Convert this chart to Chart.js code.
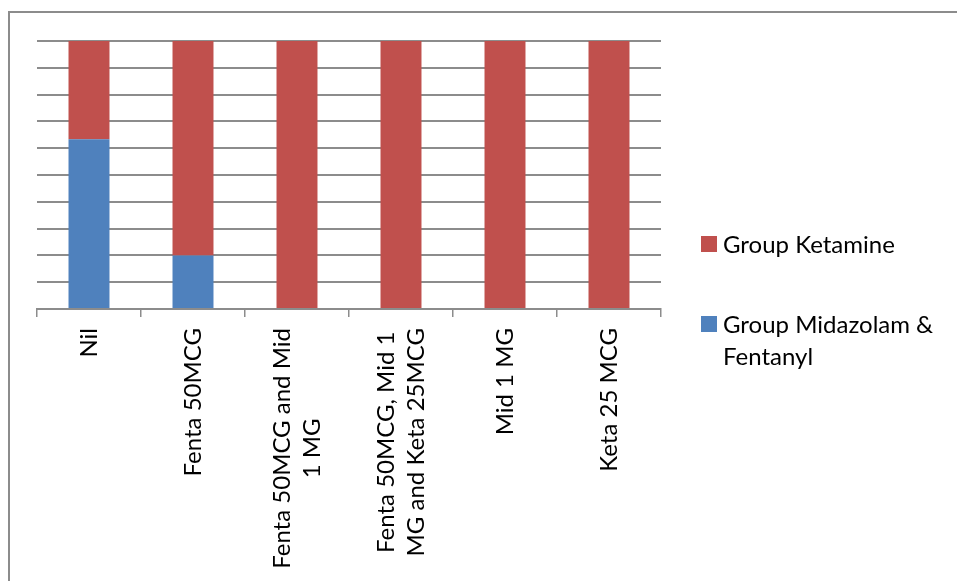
<!DOCTYPE html>
<html>
<head>
<meta charset="utf-8">
<script src="https://cdn.jsdelivr.net/npm/chart.js@4"></script>
<style>
  html, body { margin: 0; padding: 0; background: #fff; overflow: hidden; }
  #wrap { position: relative; width: 957px; height: 581px; }
  #frame { position: absolute; left: 8px; top: 11px; width: 1200px; height: 900px;
           border-left: 2px solid #8c8c8c; border-top: 2px solid #8c8c8c; pointer-events: none; }
  #legend { position: absolute; left: 701px; top: 228px; font-family: Lato, sans-serif;
            font-size: 24px; line-height: 32px; color: #000; }
  .item { position: absolute; left: 0; white-space: nowrap; }
  .box { position: absolute; left: 0; top: 8px; width: 16px; height: 16px; }
  .txt { position: absolute; left: 22px; top: 0; }
</style>
</head>
<body>
<div id="wrap">
  <canvas id="myChart" width="957" height="581"></canvas>
  <div id="frame"></div>
  <div id="legend"></div>
</div>
<script>
var categories = [
  ['Nil'],
  ['Fenta 50MCG'],
  ['Fenta 50MCG and Mid', '1 MG'],
  ['Fenta 50MCG, Mid 1', 'MG and Keta 25MCG'],
  ['Mid 1 MG'],
  ['Keta 25 MCG']
];
// percentage of patients in each group
var midazolamFentanyl = [63.3, 20, 0, 0, 0, 0];
var ketamine = [36.7, 80, 100, 100, 100, 100];

var blue = '#4f81bd';
var red = '#c0504d';
var grey = '#8c8c8c';
var labelFont = '24px Lato, sans-serif';

// category labels, rotated and centred line by line like the spreadsheet
var rotatedLabels = {
  id: 'rotatedLabels',
  afterDraw: function (chart) {
    var ctx = chart.ctx;
    var xs = chart.scales.x;
    var top = xs.top + 19;
    var lh = 30;
    ctx.save();
    ctx.font = labelFont;
    ctx.fillStyle = '#000';
    ctx.textAlign = 'center';
    ctx.textBaseline = 'middle';
    categories.forEach(function (lines, i) {
      var x = xs.getPixelForTick(i);
      var maxW = 0;
      lines.forEach(function (l) { maxW = Math.max(maxW, ctx.measureText(l).width); });
      ctx.save();
      ctx.translate(x, top);
      ctx.rotate(-Math.PI / 2);
      lines.forEach(function (l, j) {
        ctx.fillText(l, -maxW / 2, (j - (lines.length - 1) / 2) * lh);
      });
      ctx.restore();
    });
    ctx.restore();
  }
};

var ctx = document.getElementById('myChart').getContext('2d');
var chart = new Chart(ctx, {
  type: 'bar',
  data: {
    labels: categories,
    datasets: [{
      label: 'Group Midazolam & Fentanyl',
      data: midazolamFentanyl,
      backgroundColor: blue,
      barPercentage: 0.394,
      categoryPercentage: 1
    }, {
      label: 'Group Ketamine',
      data: ketamine,
      backgroundColor: red,
      barPercentage: 0.394,
      categoryPercentage: 1
    }]
  },
  options: {
    responsive: false,
    animation: false,
    layout: { padding: { left: 37, top: 41, right: 296, bottom: 0 } },
    plugins: { legend: { display: false }, tooltip: { enabled: false } },
    scales: {
      x: {
        stacked: true,
        grid: { offset: true, drawOnChartArea: false, color: grey, lineWidth: 1.5, tickLength: 8 },
        border: { color: grey, width: 2 },
        ticks: { display: false },
        afterFit: function (scale) { scale.height = 272; }
      },
      y: {
        stacked: true,
        min: 0,
        max: 100,
        ticks: { display: false, stepSize: 10 },
        grid: { color: grey, lineWidth: 2, drawTicks: false },
        border: { display: false },
        afterFit: function (scale) { scale.width = 0; }
      }
    }
  },
  plugins: [rotatedLabels]
});

// legend, listed top to bottom in reverse stack order
var legend = document.getElementById('legend');
var legendTops = [0, 80];
chart.data.datasets.slice().reverse().forEach(function (ds, i) {
  var item = document.createElement('div');
  item.className = 'item';
  item.style.top = legendTops[i] + 'px';
  var box = document.createElement('div');
  box.className = 'box';
  box.style.background = ds.backgroundColor;
  var txt = document.createElement('div');
  txt.className = 'txt';
  var words = ds.label.split(' & ');
  txt.innerHTML = words.length > 1 ? words[0] + ' &amp;<br>' + words[1] : ds.label;
  item.appendChild(box);
  item.appendChild(txt);
  legend.appendChild(item);
});
</script>
</body>
</html>
